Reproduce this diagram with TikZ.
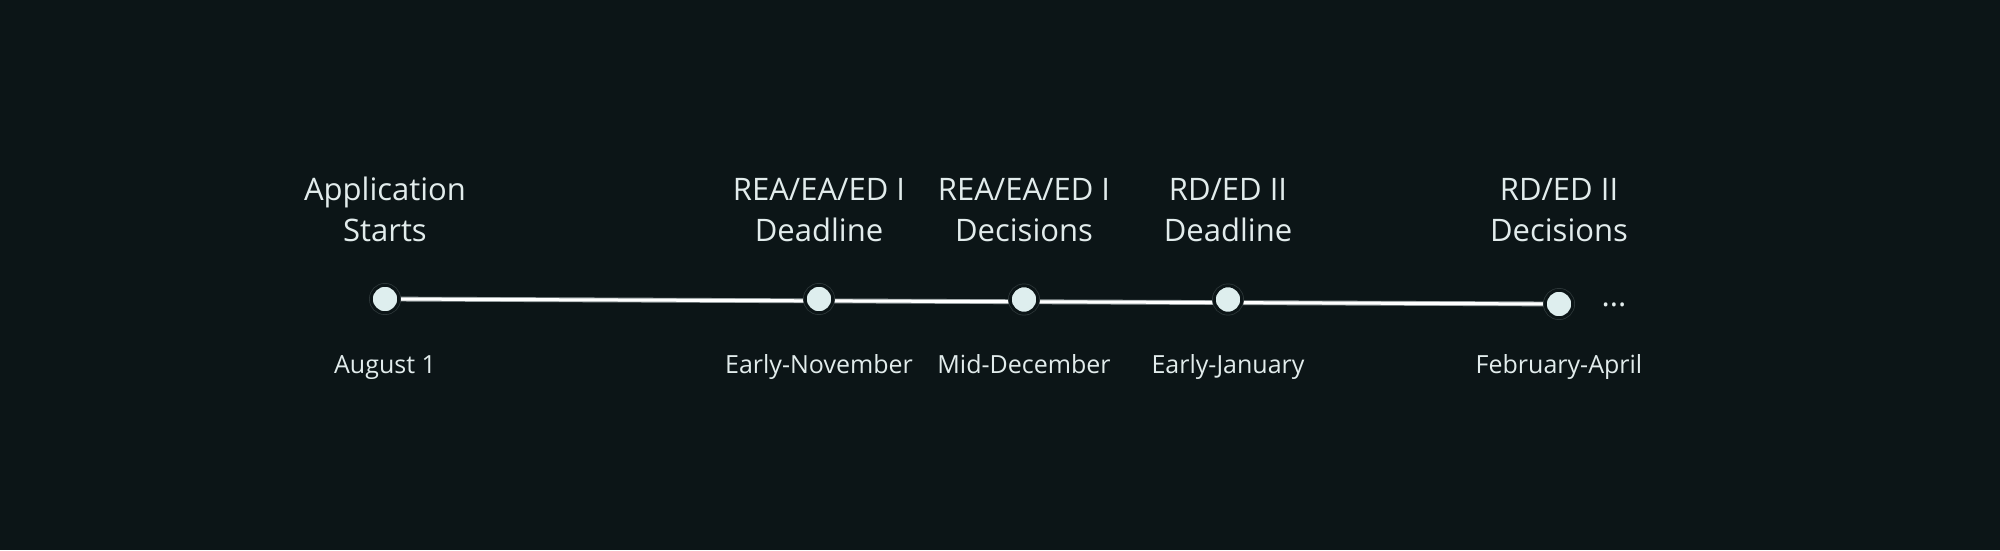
\documentclass[tikz,border=0pt]{standalone}
\usepackage{fontspec}
\setmainfont{Open Sans}
\definecolor{bg}{RGB}{12,21,23}
\definecolor{ink}{RGB}{226,236,236}
\definecolor{dotfill}{RGB}{222,238,238}
\definecolor{ringgray}{RGB}{48,58,60}
\definecolor{linegray}{RGB}{150,158,160}
\usetikzlibrary{positioning,backgrounds}

\begin{document}
\begin{tikzpicture}[x=1pt,y=-1pt,
    stop/.style={circle, inner sep=0pt, minimum size=27.5pt, fill=dotfill,
        draw=bg, line width=3pt, preaction={draw=ringgray, line width=4.4pt}},
    tline/.style={draw=linegray, line width=0.9pt, double=white, double distance=3pt},
    head/.style={text=ink, align=center, font=\fontsize{31}{40.3}\selectfont, anchor=base},
    when/.style={text=ink, font=\fontsize{25}{27}\selectfont, anchor=base}]
        \useasboundingbox (0,0) rectangle (2000,550);

        \node[stop] (s1) at (385,299) {};
        \node[stop] (s2) at (819,299) {};
        \node[stop] (s3) at (1024,299.5) {};
        \node[stop] (s4) at (1228,299.5) {};
        \node[stop] (s5) at (1559,304) {};
        \node[text=ink, font=\fontsize{31}{31}\selectfont, anchor=base] (more) at (1614,306) {...};

        \begin{pgfonlayer}{background}
        \fill[bg] (0,0) rectangle (2000,550);
        \draw[tline] (s1.center) -- (s5.center);
        \end{pgfonlayer}

        \node[head] (h1) at (385,241) {Application\\Starts};
        \node[head] (h2) at (819,241) {REA/EA/ED I\\Deadline};
        \node[head] (h3) at (1024,241) {REA/EA/ED I\\Decisions};
        \node[head] (h4) at (1228,241) {RD/ED II\\Deadline};
        \node[head] (h5) at (1559,241) {RD/ED II\\Decisions};

        \node[when] (w1) at (385,373.3) {August 1};
        \node[when] (w2) at (819,373.3) {Early-November};
        \node[when] (w3) at (1024,373.3) {Mid-December};
        \node[when] (w4) at (1228,373.3) {Early-January};
        \node[when] (w5) at (1559,373.3) {February-April};
    \end{tikzpicture}
\end{document}
